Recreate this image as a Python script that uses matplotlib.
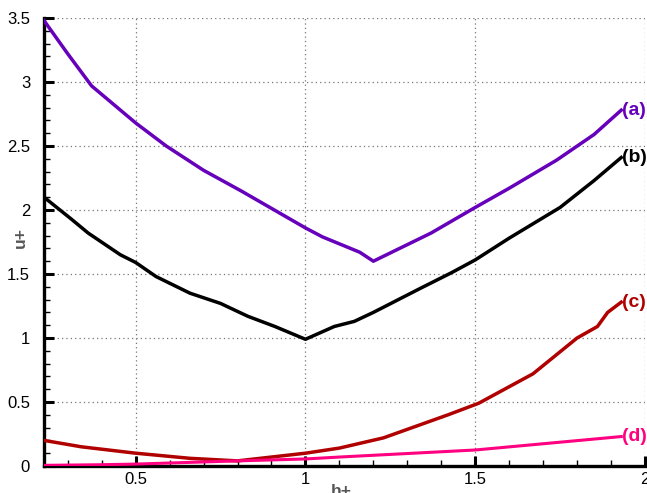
import matplotlib
matplotlib.use("Agg")
import matplotlib.pyplot as plt
from matplotlib.ticker import MultipleLocator

plt.rcParams['font.family'] = ['Liberation Sans', 'DejaVu Sans']

# Curve data: h+ vs u+
h_a = [0.23, 0.30, 0.37, 0.50, 0.59, 0.70, 0.81, 1.00, 1.05, 1.16, 1.20, 1.37, 1.50, 1.60, 1.74, 1.85, 1.93]
u_a = [3.48, 3.22, 2.97, 2.68, 2.50, 2.31, 2.15, 1.86, 1.79, 1.67, 1.60, 1.82, 2.02, 2.17, 2.39, 2.59, 2.78]

h_b = [0.23, 0.31, 0.36, 0.455, 0.50, 0.56, 0.66, 0.75, 0.83, 0.91, 1.00, 1.085, 1.144, 1.20,
       1.34, 1.43, 1.50, 1.60, 1.75, 1.85, 1.93]
u_b = [2.10, 1.93, 1.82, 1.65, 1.59, 1.48, 1.35, 1.27, 1.17, 1.09, 0.99, 1.09, 1.13, 1.20,
       1.39, 1.51, 1.61, 1.78, 2.02, 2.23, 2.41]

h_c = [0.23, 0.34, 0.50, 0.66, 0.80, 0.90, 1.00, 1.10, 1.23, 1.42, 1.51, 1.67, 1.80, 1.86, 1.89, 1.93]
u_c = [0.20, 0.15, 0.10, 0.06, 0.04, 0.07, 0.10, 0.14, 0.22, 0.40, 0.49, 0.72, 1.00, 1.09, 1.20, 1.28]

h_d = [0.23, 0.40, 0.50, 0.80, 1.00, 1.10, 1.50, 1.93]
u_d = [0.005, 0.01, 0.015, 0.04, 0.055, 0.07, 0.125, 0.23]

curve_labels = ["(a)", "(b)", "(c)", "(d)"]
curve_colors = ["#6600bb", "#000000", "#b00000", "#ff0080"]

x_ticks = [0.5, 1, 1.5, 2]
x_tick_labels = ["0.5", "1", "1.5", "2"]
y_ticks = [0, 0.5, 1, 1.5, 2, 2.5, 3, 3.5]
y_tick_labels = ["0", "0.5", "1", "1.5", "2", "2.5", "3", "3.5"]

fig = plt.figure(figsize=(6.47, 4.93), dpi=100)
ax = fig.add_axes([44 / 647, 27 / 493, 601 / 647, 448 / 493])

series = [(h_a, u_a), (h_b, u_b), (h_c, u_c), (h_d, u_d)]
widths = [2.5, 2.5, 2.5, 2.2]
for (h, u), lab, col, lw in zip(series, curve_labels, curve_colors, widths):
    ax.plot(h, u, color=col, lw=lw, solid_joinstyle='round', zorder=3)
    ax.annotate(lab, xy=(h[-1], u[-1]), xytext=(0.5, 0), textcoords='offset points',
                ha='left', va='center', color=col, fontsize=14, fontweight='bold',
                annotation_clip=False, zorder=4)

ax.set_xlim(0.23, 2)
ax.set_ylim(0, 3.5)
ax.set_xticks(x_ticks)
ax.set_xticklabels(x_tick_labels)
ax.set_yticks(y_ticks)
ax.set_yticklabels(y_tick_labels)
ax.xaxis.set_minor_locator(MultipleLocator(0.1))
ax.yaxis.set_minor_locator(MultipleLocator(0.1))

ax.grid(True, which='major', color='#777777', linestyle=(0, (1, 2.5)), linewidth=0.9)
ax.set_axisbelow(True)

for side in ('top', 'right'):
    ax.spines[side].set_visible(False)
for side in ('left', 'bottom'):
    ax.spines[side].set_linewidth(2.4)
    ax.spines[side].set_color('black')

ax.tick_params(which='major', direction='in', length=7, width=2.2, labelsize=12,
               colors='black')
ax.tick_params(axis='y', which='major', pad=10)
ax.tick_params(axis='x', which='major', pad=4)
ax.tick_params(which='minor', direction='in', length=4, width=1.0, colors='black')
ax.tick_params(axis='y', which='both', right=False)
ax.tick_params(axis='x', which='both', top=False)

ax.set_xlabel("h+", fontsize=12.5, fontweight='bold', color='#555555')
ax.xaxis.set_label_coords((341 - 44) / 601, -25 / 448)
ax.xaxis.label.set_va('center')
ax.set_ylabel("u+", fontsize=12.5, fontweight='bold', color='#555555')
ax.yaxis.set_label_coords(-24 / 601, (466 - 237) / 448)
ax.yaxis.label.set_va('center')

fig.savefig("out.png", dpi=100)
